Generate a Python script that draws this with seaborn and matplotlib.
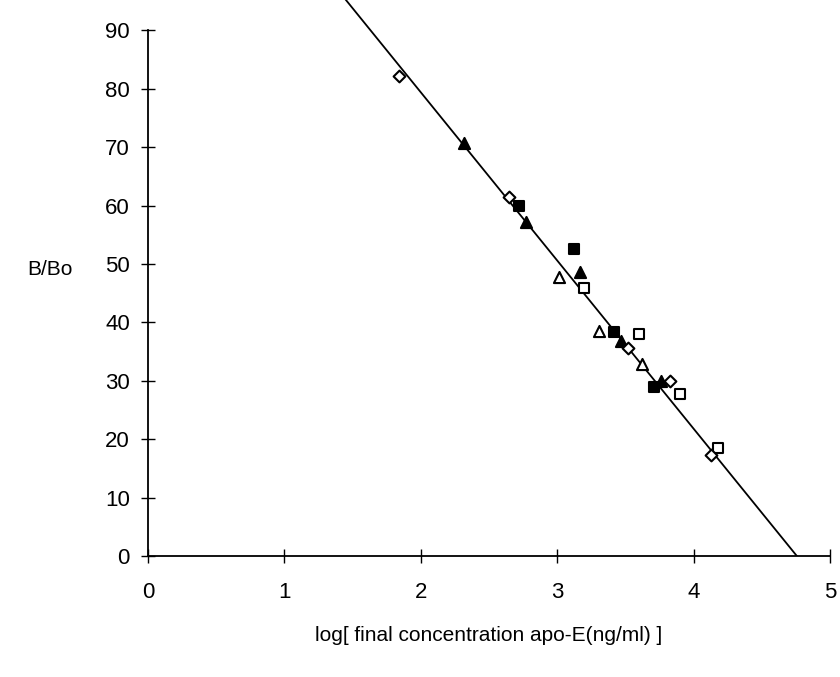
import matplotlib
matplotlib.use("Agg")
import matplotlib.pyplot as plt
import seaborn as sns
import numpy as np
import pandas as pd

sns.set_theme(style="white")
plt.rcParams['font.family'] = ['Liberation Sans', 'DejaVu Sans']

# Data
filled_square_x = [2.72, 3.12, 3.42, 3.71]
filled_square_y = [59.9, 52.6, 38.4, 28.9]
filled_tri_x = [2.32, 2.77, 3.17, 3.47, 3.76]
filled_tri_y = [70.7, 57.2, 48.6, 36.8, 30.0]
open_tri_x = [3.01, 3.31, 3.62]
open_tri_y = [47.8, 38.5, 32.9]
open_square_x = [3.20, 3.60, 3.90, 4.18]
open_square_y = [45.9, 38.0, 27.7, 18.5]
open_diamond_x = [1.84, 2.65, 3.52, 3.83, 4.13]
open_diamond_y = [82.2, 61.5, 35.6, 30.0, 17.3]

line_slope = -28.8
line_intercept = 137.0

x_ticks = [0, 1, 2, 3, 4, 5]
y_ticks = [0, 10, 20, 30, 40, 50, 60, 70, 80, 90]

groups = [
    ("filled square", filled_square_x, filled_square_y, "s", "black", 7),
    ("filled triangle", filled_tri_x, filled_tri_y, "^", "black", 8),
    ("open triangle", open_tri_x, open_tri_y, "^", "white", 8),
    ("open square", open_square_x, open_square_y, "s", "white", 7),
    ("open diamond", open_diamond_x, open_diamond_y, "D", "white", 6),
]

fig = plt.figure(figsize=(8.4, 6.77), dpi=100)
ax = fig.add_axes([148/840, 1 - 556/677, (830 - 148)/840, 556/677])

x_line = np.array([0.0, 5.0])
ax.plot(x_line, line_intercept + line_slope * x_line, color="black", lw=1.3, zorder=2)

for name, xs, ys, mk, fc, sz in groups:
    df = pd.DataFrame({"x": xs, "y": ys})
    sns.scatterplot(data=df, x="x", y="y", marker=mk, s=sz**2, color=fc,
                    edgecolor="black", linewidth=1.5, ax=ax, zorder=3, legend=False)

ax.set_xlim(0, 5)
ax.set_ylim(0, 556/5.84)
for s in ["top", "right"]:
    ax.spines[s].set_visible(False)
ax.spines["left"].set_bounds(0, 90)
ax.spines["left"].set_color("black")
ax.spines["bottom"].set_color("black")
ax.spines["left"].set_linewidth(1.3)
ax.spines["bottom"].set_linewidth(1.3)
ax.set_xticks(x_ticks)
ax.set_yticks(y_ticks)
ax.set_xticklabels([str(t) for t in x_ticks])
ax.set_yticklabels([str(t) for t in y_ticks])
ax.tick_params(axis="both", direction="inout", length=10, width=1, color="black",
               labelsize=16, labelcolor="black", bottom=True, left=True)
ax.tick_params(axis="x", pad=14)
ax.tick_params(axis="y", pad=8)
ax.set_xlabel("log[ final concentration apo-E(ng/ml) ]", fontsize=15, labelpad=16, color="black")
ax.set_ylabel("")
fig.text(50/840, 1 - 270/677, "B/Bo", fontsize=15, ha="center", va="center", color="black")
ax.patch.set_alpha(0)

fig.savefig("out.png", dpi=100)
